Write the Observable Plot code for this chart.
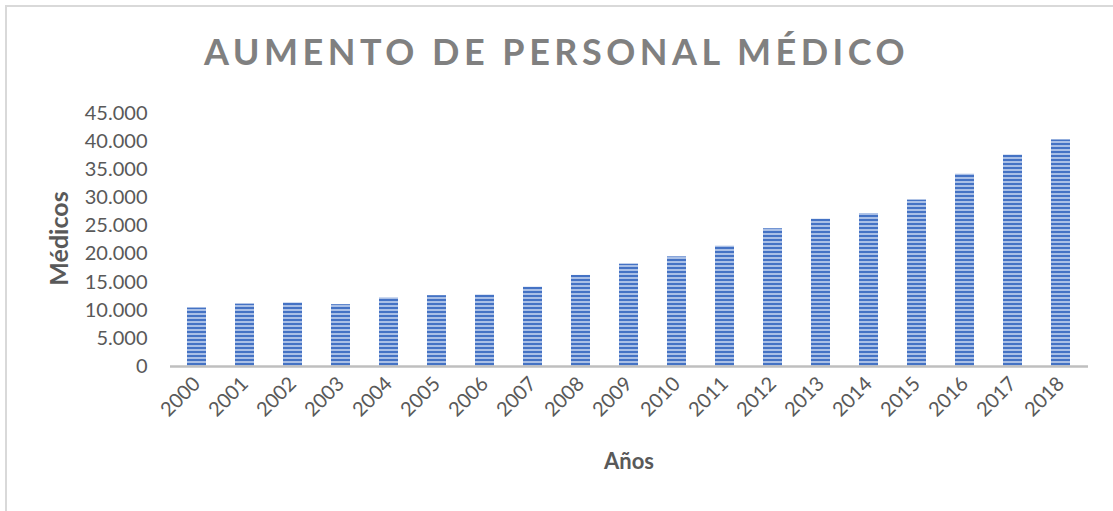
<!DOCTYPE html>
<html>
<head>
<meta charset="utf-8">
<script src="https://cdn.jsdelivr.net/npm/d3@7"></script>
<script src="https://cdn.jsdelivr.net/npm/@observablehq/plot@0.6"></script>
<style>
  html, body { margin: 0; padding: 0; background: #fff; }
  #wrap { position: relative; width: 1113px; height: 511px; overflow: hidden; font-family: Lato, "Open Sans", sans-serif; }
  #frame { position: absolute; left: 5px; top: 5px; width: 1200px; height: 600px; border-left: 2px solid #d9d9d9; border-top: 2px solid #d9d9d9; box-sizing: border-box; }
  #title { position: absolute; left: 0; top: 33px; width: 1113px; text-align: center; font-size: 36px; font-weight: 700; letter-spacing: 4.5px; color: #808080; line-height: 1; }
  #chart { position: absolute; left: 0; top: 95px; }
</style>
</head>
<body>
<div id="wrap">
  <div id="frame"></div>
  <div id="title">AUMENTO DE PERSONAL MÉDICO</div>
  <div id="chart"></div>
</div>
<script>
const years = ["2000","2001","2002","2003","2004","2005","2006","2007","2008","2009","2010","2011","2012","2013","2014","2015","2016","2017","2018"];
const medicos = [10400, 11100, 11300, 11000, 12200, 12600, 12700, 14100, 16200, 18200, 19500, 21400, 24500, 26200, 27200, 29600, 34200, 37600, 40300];
const yTicks = [0, 5000, 10000, 15000, 20000, 25000, 30000, 35000, 40000, 45000];

const data = years.map((y, i) => ({year: y, value: medicos[i]}));
const fmt = d3.formatLocale({decimal: ",", thousands: ".", grouping: [3], currency: ["", ""]}).format(",d");

const plot = Plot.plot({
  width: 1113,
  height: 416,
  marginLeft: 170,
  marginRight: 25,
  marginTop: 18,
  marginBottom: 145,
  style: {fontFamily: "Lato, 'Open Sans', sans-serif", fontSize: "20px", color: "#595959", background: "transparent"},
  x: {domain: years, paddingInner: 0.6, paddingOuter: 0.3, label: null},
  y: {domain: [0, 45000], label: null},
  marks: [
    Plot.barY(data, {x: "year", y: "value", fill: "url(#stripes)"}),
    Plot.ruleY([0], {stroke: "#bfbfbf", strokeWidth: 2.5}),
    Plot.axisY({ticks: yTicks, tickFormat: fmt, tickSize: 0, tickPadding: 23, fontSize: 20, fill: "#595959", label: null}),
    Plot.axisX({tickSize: 0, tickRotate: -45, tickPadding: 14, fontSize: 20, fill: "#595959", label: null})
  ]
});

// striped fill pattern
const svg = d3.select(plot);
const defs = svg.insert("defs", ":first-child");
const pat = defs.append("pattern").attr("id", "stripes").attr("patternUnits", "userSpaceOnUse").attr("width", 8).attr("height", 4);
pat.append("rect").attr("width", 8).attr("height", 4).attr("fill", "#a9bfe6");
pat.append("rect").attr("width", 8).attr("height", 2).attr("fill", "#4472c4");

document.getElementById("chart").appendChild(plot);

// axis titles
const wrap = document.getElementById("wrap");
const xt = document.createElement("div");
xt.textContent = "Años";
Object.assign(xt.style, {position: "absolute", left: "529px", width: "200px", textAlign: "center", top: "450px", fontSize: "22px", fontWeight: "700", color: "#595959", lineHeight: "1"});
wrap.appendChild(xt);
const yt = document.createElement("div");
yt.textContent = "Médicos";
Object.assign(yt.style, {position: "absolute", left: "-47px", top: "226px", width: "210px", textAlign: "center", fontSize: "25px", fontWeight: "700", color: "#595959", lineHeight: "1", transform: "rotate(-90deg)"});
wrap.appendChild(yt);
</script>
</body>
</html>
